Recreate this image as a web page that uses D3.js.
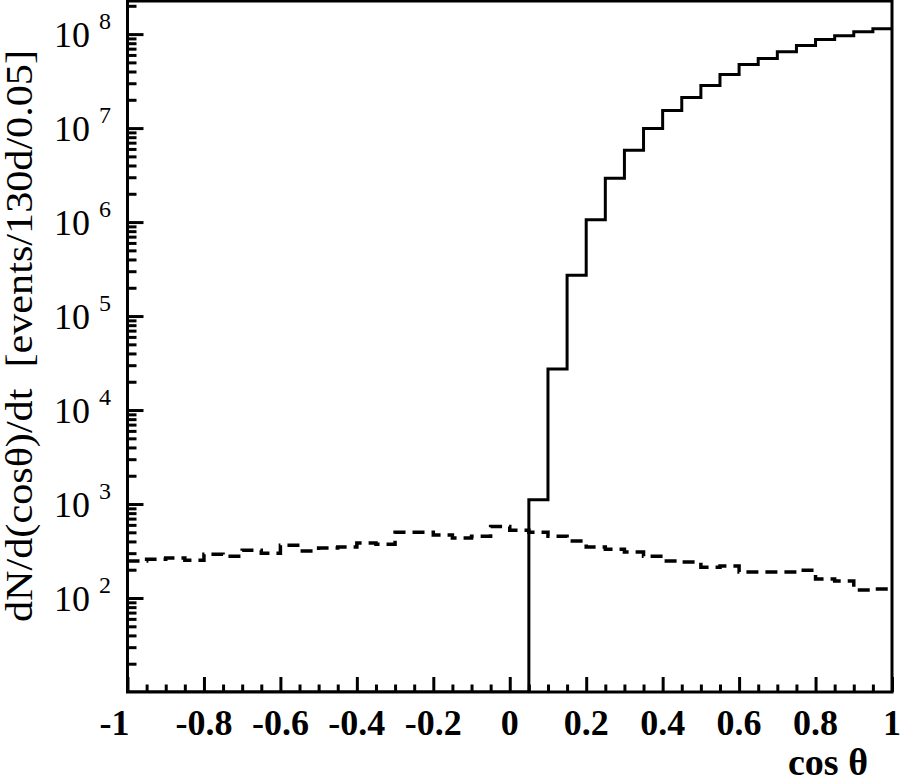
<!DOCTYPE html>
<html>
<head>
<meta charset="utf-8">
<script src="https://cdn.jsdelivr.net/npm/d3@7"></script>
<style>
    body { margin: 0; background: #fff; }
    text { font-family: "Liberation Serif", "Times New Roman", Times, serif; fill: #000; }
    .labels.x text, .title.x { font-weight: bold; }
</style>
</head>
<body>
<div id="chart"></div>
<script>

// cos(theta) bins, width 0.05, lower edges from -1 to 0.95
const binWidth = 0.05;
const binLow = d3.range(40).map(i => -1 + i * binWidth);

// solid histogram (zero below cos = 0.05)
const signalCounts = [
    0, 0, 0, 0, 0, 0, 0, 0, 0, 0,
    0, 0, 0, 0, 0, 0, 0, 0, 0, 0,
    0, 1110, 27400, 272000, 1060000, 2920000, 5800000, 9900000, 15400000, 21100000,
    28400000, 37100000, 47400000, 55000000, 65000000, 75500000, 87400000, 96000000, 106000000, 114000000
];

// dashed histogram
const backgroundCounts = [
    247, 259, 266, 253, 293, 279, 323, 300, 365, 316,
    340, 348, 384, 374, 502, 502, 467, 434, 455, 575,
    527, 502, 455, 403, 348, 331, 308, 279, 247, 241,
    213, 219, 189, 189, 189, 198, 159, 152, 122, 125
];

const xTickLabels = ["-1", "-0.8", "-0.6", "-0.4", "-0.2", "0", "0.2", "0.4", "0.6", "0.8", "1"];
const yTickExponents = [2, 3, 4, 5, 6, 7, 8];

const xTitle = "cos θ";
const yTitle = "dN/d(cosθ)/dt\u00a0\u00a0[events/130d/0.05]";

const svg = {
    width: 900,
    height: 782,
    left: 127.5,
    right: 892,
    top: 1,
    bottom: 692
};

const xScale = d3.scaleLinear()
    .domain([-1, 1])
    .range([svg.left, svg.right]);

const yScale = d3.scaleLog()
    .domain([10, 2.25e8])
    .range([svg.bottom, svg.top]);

const chart = d3.select("#chart")
    .append("svg")
    .attr("width", svg.width)
    .attr("height", svg.height);

chart.append("defs")
    .append("clipPath")
    .attr("id", "plot-clip")
    .append("rect")
    .attr("x", svg.left)
    .attr("y", svg.top)
    .attr("width", svg.right - svg.left)
    .attr("height", svg.bottom - svg.top);

// step outline of a histogram
function stepPoints(counts) {
    const pts = [];
    counts.forEach((v, i) => {
        const y = v > 0 ? yScale(v) : svg.bottom;
        pts.push([xScale(binLow[i]), y]);
        pts.push([xScale(binLow[i] + binWidth), y]);
    });
    return pts;
}

const line = d3.line();

const marks = chart.append("g")
    .attr("class", "marks")
    .attr("clip-path", "url(#plot-clip)");

marks.append("path")
    .attr("class", "background")
    .attr("d", line(stepPoints(backgroundCounts)))
    .attr("fill", "none")
    .attr("stroke", "#000")
    .attr("stroke-width", 3.5)
    .attr("stroke-dasharray", "12 7");

marks.append("path")
    .attr("class", "signal")
    .attr("d", line(stepPoints(signalCounts)))
    .attr("fill", "none")
    .attr("stroke", "#000")
    .attr("stroke-width", 3)
    .attr("stroke-linejoin", "miter");

// x axis ticks, pointing into the frame
const xMajor = xTickLabels.map(Number);
const xMinor = d3.range(41).map(i => -1 + i * binWidth)
    .filter(v => !xMajor.some(m => Math.abs(m - v) < 1e-6));

chart.append("g")
    .attr("class", "axis x minor")
    .attr("transform", `translate(0, ${svg.bottom})`)
    .call(d3.axisBottom(xScale).tickValues(xMinor).tickSizeInner(-7.5).tickSizeOuter(0).tickFormat(""));

chart.append("g")
    .attr("class", "axis x major")
    .attr("transform", `translate(0, ${svg.bottom})`)
    .call(d3.axisBottom(xScale).tickValues(xMajor).tickSizeInner(-15).tickSizeOuter(0).tickFormat(""));

// y axis ticks
const yMajor = yTickExponents.map(e => Math.pow(10, e));
const yMinor = yScale.ticks()
    .filter(v => !yMajor.includes(v) && v > yScale.domain()[0]);

chart.append("g")
    .attr("class", "axis y minor")
    .attr("transform", `translate(${svg.left}, 0)`)
    .call(d3.axisLeft(yScale).tickValues(yMinor).tickSizeInner(-9).tickSizeOuter(0).tickFormat(""));

chart.append("g")
    .attr("class", "axis y major")
    .attr("transform", `translate(${svg.left}, 0)`)
    .call(d3.axisLeft(yScale).tickValues(yMajor).tickSizeInner(-16).tickSizeOuter(0).tickFormat(""));

chart.selectAll("g.axis path.domain").remove();
chart.selectAll("g.axis line")
    .attr("stroke", "#000")
    .attr("stroke-width", 3);

// frame
chart.append("rect")
    .attr("x", svg.left)
    .attr("y", svg.top)
    .attr("width", svg.right - svg.left)
    .attr("height", svg.bottom - svg.top)
    .attr("fill", "none")
    .attr("stroke", "#000")
    .attr("stroke-width", 3);

// x tick labels
chart.append("g")
    .attr("class", "labels x")
    .selectAll("text")
    .data(xTickLabels)
    .join("text")
    .attr("x", d => xScale(+d) + (d === "-1" ? 2 : 0))
    .attr("y", 735)
    .attr("text-anchor", d => d === "-1" ? "end" : "middle")
    .attr("font-size", 36)
    .text(d => d);

// y tick labels: 10 with exponent
const yLabels = chart.append("g")
    .attr("class", "labels y")
    .selectAll("g")
    .data(yTickExponents)
    .join("g");

yLabels.append("text")
    .attr("x", 90)
    .attr("y", d => yScale(Math.pow(10, d)) + 13)
    .attr("text-anchor", "end")
    .attr("font-size", 36)
    .text("10");

yLabels.append("text")
    .attr("x", 99)
    .attr("y", d => yScale(Math.pow(10, d)) - 5)
    .attr("font-size", 24)
    .text(d => d);

// axis titles
chart.append("text")
    .attr("class", "title x")
    .attr("x", 868)
    .attr("y", 775)
    .attr("text-anchor", "end")
    .attr("font-size", 38)
    .text(xTitle);

chart.append("text")
    .attr("class", "title y")
    .attr("transform", "translate(32, 336) rotate(-90)")
    .attr("text-anchor", "middle")
    .attr("font-size", 37)
    .attr("textLength", 572)
    .attr("lengthAdjust", "spacingAndGlyphs")
    .text(yTitle);

</script>
</body>
</html>
